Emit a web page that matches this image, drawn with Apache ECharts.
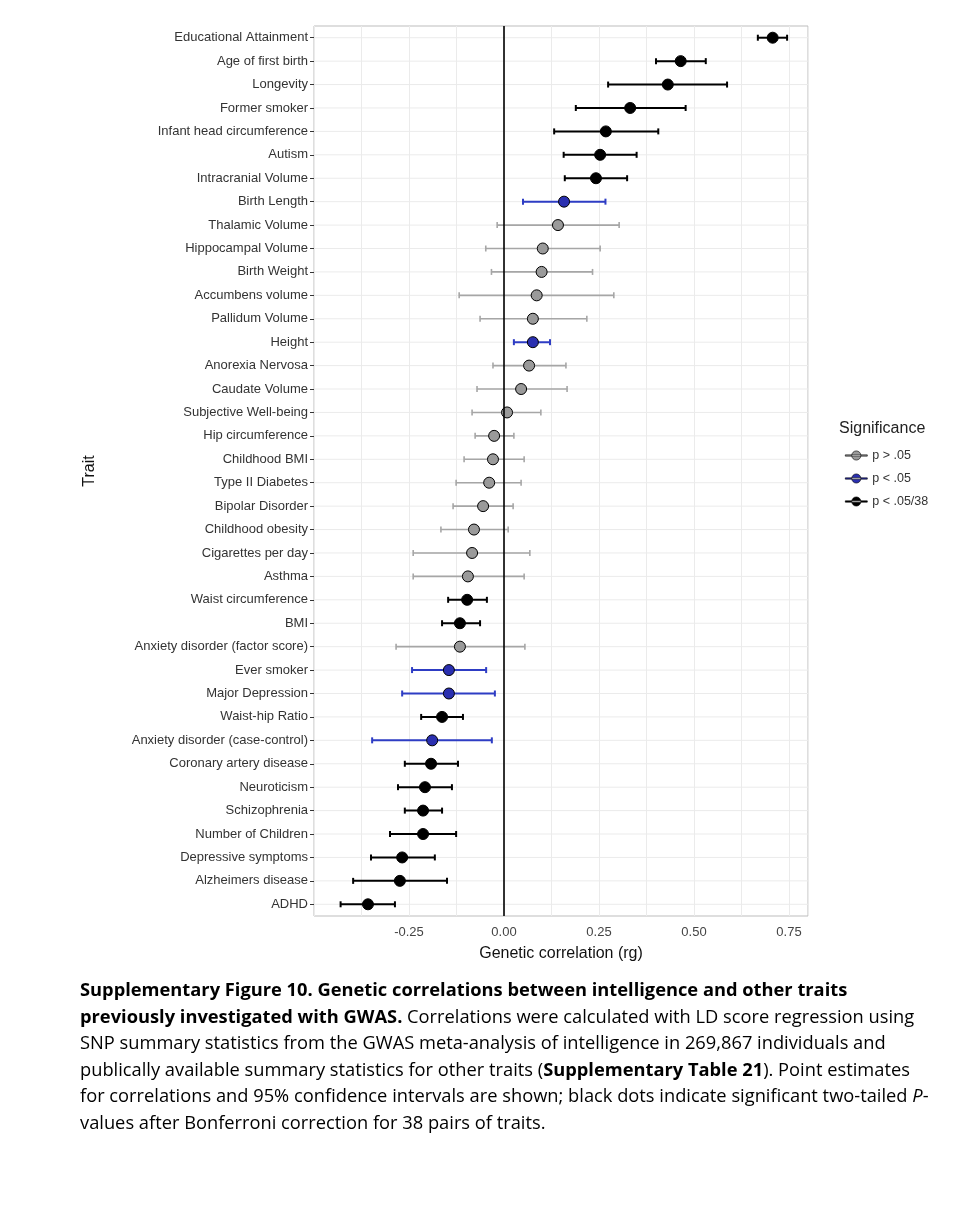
<!DOCTYPE html>
<html>
<head>
<meta charset="utf-8">
<script src="https://cdn.jsdelivr.net/npm/echarts@6/dist/echarts.min.js"></script>
<style>
body{margin:0;background:#fff;}
#main{width:961px;height:1222px;}
#cap{position:absolute;left:80px;top:976px;width:850px;font-family:"Open Sans","Noto Sans",sans-serif;font-size:18.3px;line-height:26.5px;color:#000;}
</style>
</head>
<body>
<div id="main"></div>
<div id="cap"><b>Supplementary Figure 10. Genetic correlations between intelligence and other traits previously investigated with GWAS.</b> Correlations were calculated with LD score regression using SNP summary statistics from the GWAS meta-analysis of intelligence in 269,867 individuals and publically available summary statistics for other traits (<b>Supplementary Table 21</b>). Point estimates for correlations and 95% confidence intervals are shown; black dots indicate significant two-tailed <i>P</i>-values after Bonferroni correction for 38 pairs of traits.</div>
<script>
var traits = ['Educational Attainment','Age of first birth','Longevity','Former smoker','Infant head circumference','Autism','Intracranial Volume','Birth Length','Thalamic Volume','Hippocampal Volume','Birth Weight','Accumbens volume','Pallidum Volume','Height','Anorexia Nervosa','Caudate Volume','Subjective Well-being','Hip circumference','Childhood BMI','Type II Diabetes','Bipolar Disorder','Childhood obesity','Cigarettes per day','Asthma','Waist circumference','BMI','Anxiety disorder (factor score)','Ever smoker','Major Depression','Waist-hip Ratio','Anxiety disorder (case-control)','Coronary artery disease','Neuroticism','Schizophrenia','Number of Children','Depressive symptoms','Alzheimers disease','ADHD'];
var rg = [0.707,0.465,0.431,0.332,0.268,0.253,0.242,0.158,0.142,0.102,0.099,0.086,0.076,0.076,0.066,0.045,0.008,-0.026,-0.029,-0.039,-0.055,-0.079,-0.084,-0.095,-0.097,-0.116,-0.116,-0.145,-0.145,-0.163,-0.189,-0.192,-0.208,-0.213,-0.213,-0.268,-0.274,-0.358];
var lower = [0.668,0.40,0.274,0.189,0.132,0.157,0.16,0.05,-0.018,-0.048,-0.033,-0.118,-0.063,0.026,-0.029,-0.071,-0.084,-0.076,-0.105,-0.126,-0.134,-0.166,-0.239,-0.239,-0.147,-0.163,-0.284,-0.242,-0.268,-0.218,-0.347,-0.261,-0.279,-0.261,-0.30,-0.35,-0.397,-0.43];
var upper = [0.745,0.531,0.587,0.478,0.406,0.349,0.324,0.267,0.303,0.253,0.233,0.289,0.218,0.121,0.163,0.166,0.097,0.026,0.053,0.045,0.024,0.011,0.068,0.053,-0.045,-0.063,0.055,-0.047,-0.024,-0.108,-0.032,-0.121,-0.137,-0.163,-0.126,-0.182,-0.15,-0.287];
// 0: p > .05, 1: p < .05, 2: p < .05/38
var sig = [2,2,2,2,2,2,2,1,0,0,0,0,0,1,0,0,0,0,0,0,0,0,0,0,2,2,0,1,1,2,1,2,2,2,2,2,2,2];
var groups = ['p > .05','p < .05','p < .05/38'];
var lineCol = ['#a6a6a6','#2e3dc4','#000'];
var fillCol = ['#9a9a9a','#2a2fb0','#000'];

var chart = echarts.init(document.getElementById('main'));
var font = 'Liberation Sans, Arial, sans-serif';
var series = [];

// horizontal grid lines at each trait
series.push({
    type:'custom', silent:true, z:1,
    data: traits.map(function(t){return [0,t];}),
    renderItem:function(params,api){
        var p = api.coord([0,api.value(1)]);
        var cs = params.coordSys;
        return {type:'line',shape:{x1:cs.x,y1:p[1],x2:cs.x+cs.width,y2:p[1]},style:{stroke:'#ebebeb',lineWidth:1}};
    }
});

groups.forEach(function(g,gi){
    var bars=[], pts=[];
    traits.forEach(function(t,i){
        if(sig[i]!==gi) return;
        bars.push([lower[i],upper[i],t]);
        pts.push([rg[i],t]);
    });
    series.push({
        type:'custom', name:g+'_bar', z:3, silent:true,
        data:bars,
        renderItem:function(params,api){
            var a = api.coord([api.value(0),api.value(2)]);
            var b = api.coord([api.value(1),api.value(2)]);
            var st = {stroke:lineCol[gi],lineWidth:gi===0?1.6:2};
            return {type:'group',children:[
                {type:'line',shape:{x1:a[0],y1:a[1],x2:b[0],y2:b[1]},style:st},
                {type:'line',shape:{x1:a[0],y1:a[1]-3,x2:a[0],y2:a[1]+3},style:st},
                {type:'line',shape:{x1:b[0],y1:b[1]-3,x2:b[0],y2:b[1]+3},style:st}
            ]};
        }
    });
    series.push({
        type:'scatter', name:g, z:4,
        data:pts, symbolSize:11,
        itemStyle:{color:fillCol[gi],borderColor:'#000',borderWidth:1,opacity:1},
        markLine: gi===0 ? {silent:true,symbol:'none',label:{show:false},
            lineStyle:{color:'#000',width:1.6,type:'solid'},data:[{xAxis:0}]} : undefined
    });
});

var legendIcon = 'path://M0,7.3h24v1.4h-24z M12,3a5,5 0 1,0 0.01,0z';

var option = {
    backgroundColor:'#fff',
    animation:false,
    grid:{left:314,right:153,top:26,bottom:306,show:true,borderColor:'#bdbdbd',borderWidth:1},
    xAxis:{
        type:'value', min:-0.5, max:0.8, interval:0.125,
        name:'Genetic correlation (rg)', nameLocation:'middle', nameGap:30,
        nameTextStyle:{fontFamily:font,fontSize:16,color:'#111'},
        axisLine:{show:false},
        axisTick:{show:false},
        axisLabel:{fontFamily:font,fontSize:13,color:'#444',margin:10,
            formatter:function(v){var k=Math.round(v*100);return (k%25===0 && k>-50)?v.toFixed(2):'';}},
        splitLine:{show:true,lineStyle:{color:'#ebebeb',width:1}}
    },
    yAxis:{
        type:'category', data:traits, inverse:true,
        name:'Trait', nameLocation:'middle', nameGap:216, nameRotate:90,
        nameTextStyle:{fontFamily:font,fontSize:16,color:'#111'},
        axisLine:{show:false,onZero:false},
        axisTick:{show:true,alignWithLabel:true,length:4,lineStyle:{color:'#333'}},
        axisLabel:{fontFamily:font,fontSize:13,color:'#333',margin:6},
        splitLine:{show:false}
    },
    legend:{
        orient:'vertical', left:840, top:444,
        data:groups.map(function(g,gi){
            return {name:g,icon:legendIcon,itemStyle:{color:fillCol[gi],borderColor:'#000',borderWidth:0.6}};
        }),
        itemGap:10, itemWidth:22, itemHeight:10,
        textStyle:{fontFamily:font,fontSize:12.5,color:'#333'}
    },
    title:{text:'Significance', left:834, top:416,
        textStyle:{fontFamily:font,fontSize:16,fontWeight:'normal',color:'#222'}},
    series:series
};
chart.setOption(option);
</script>
</body>
</html>
